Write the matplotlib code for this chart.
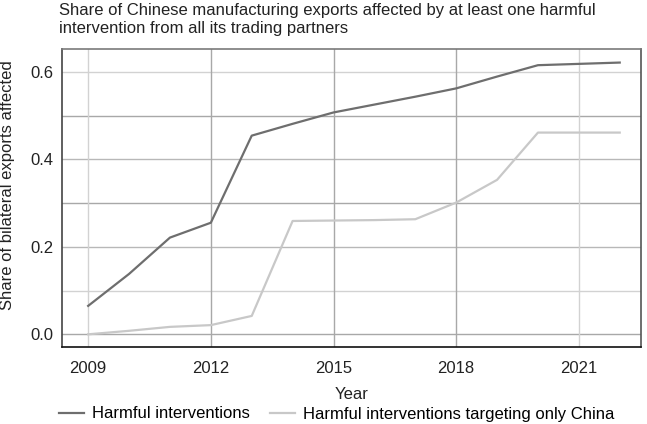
import numpy as np
import matplotlib
matplotlib.use('Agg')
import matplotlib.pyplot as plt

plt.rcParams['font.family'] = ['Liberation Sans', 'DejaVu Sans']

# data
years = [2009, 2010, 2011, 2012, 2013, 2014, 2015, 2016, 2017, 2018, 2019, 2020, 2021, 2022]
harmful = [0.065, 0.138, 0.221, 0.255, 0.454, 0.481, 0.507, 0.525, 0.543, 0.562, 0.589, 0.615, 0.618, 0.621]
china_only = [0.0, 0.008, 0.017, 0.021, 0.042, 0.259, 0.260, 0.261, 0.263, 0.301, 0.353, 0.461, 0.461, 0.461]

xticks = [2009, 2012, 2015, 2018, 2021]
yticks = [0.0, 0.2, 0.4, 0.6]
ygrid = [0.0, 0.1, 0.2, 0.3, 0.4, 0.5, 0.6]
ygrid_col = ['#a8a8a8', '#d2d2d2', '#b8b8b8', '#a8a8a8', '#b8b8b8', '#a8a8a8', '#d2d2d2']
xgrid_col = ['#d2d2d2', '#a8a8a8', '#a8a8a8', '#a8a8a8', '#d2d2d2']

W, H = 647, 424
fs = 12
fig = plt.figure(figsize=(W/100, H/100), dpi=100)
ax = fig.add_axes([62/W, (H-347)/H, (641-62)/W, (347-49)/H])

for yv, c in zip(ygrid, ygrid_col):
    ax.axhline(yv, color=c, lw=1.0, zorder=0)
for xv, c in zip(xticks, xgrid_col):
    ax.axvline(xv, color=c, lw=1.0, zorder=0)

ax.plot(years, harmful, color='#6e6e6e', lw=1.6, label='Harmful interventions')
ax.plot(years, china_only, color='#c8c8c8', lw=1.6, label='Harmful interventions targeting only China')

ax.set_xlim(2008.36, 2022.52)
ax.set_ylim(-0.029, 0.652)
ax.set_xticks(xticks)
ax.set_yticks(yticks)
ax.set_yticklabels(['%.1f' % v for v in yticks])
ax.tick_params(length=0, labelsize=fs, colors='#222222', pad=6)
ax.tick_params(axis='x', pad=10)

ax.spines['top'].set_color('#7a7a7a')
ax.spines['right'].set_color('#555555')
ax.spines['left'].set_color('#444444')
ax.spines['bottom'].set_color('#111111')
for s in ax.spines.values():
    s.set_linewidth(1.2)

ax.set_xlabel('Year', fontsize=fs, color='#222222', labelpad=8)
ax.set_ylabel('Share of bilateral exports affected', fontsize=fs, color='#222222')
ax.yaxis.set_label_coords(-0.081, 0.544)

fig.text(59/W, 1-3/H, 'Share of Chinese manufacturing exports affected by at least one harmful\n'
         'intervention from all its trading partners', fontsize=fs, color='#222222',
         va='top', ha='left', linespacing=1.28)

fig.legend(loc='center left', bbox_to_anchor=(59/W, 1-414/H), ncol=2, frameon=False,
           fontsize=fs, handlelength=1.5, handletextpad=0.45, columnspacing=1.25,
           borderaxespad=0, borderpad=0)

fig.savefig('out.png', dpi=100)
